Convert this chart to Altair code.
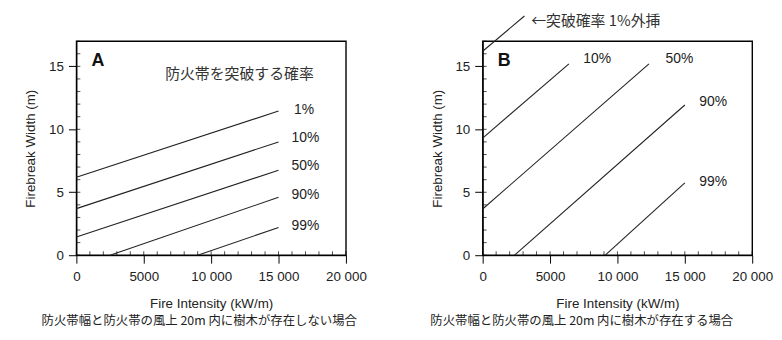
import altair as alt
import pandas as pd

# ---- data ----
X_TICKS = [0, 5000, 10000, 15000, 20000]
Y_TICKS = [0, 5, 10, 15]
X_MINOR = list(range(0, 20001, 1000))
Y_MINOR = list(range(0, 18, 1))

A_series = ["1%", "10%", "50%", "90%", "99%"]
A_x0 = [0, 0, 0, 2500, 9000]
A_y0 = [6.2, 3.7, 1.45, 0, 0]
A_x1 = [15000, 15000, 15000, 15000, 15000]
A_y1 = [11.45, 9.0, 6.75, 4.6, 2.2]
A_lab_text = ["1%", "10%", "50%", "90%", "99%"]
A_lab_x = [16900, 17000, 17000, 17000, 17000]
A_lab_y = [11.5, 9.3, 7.05, 4.75, 2.3]
A_note = "防火帯を突破する確率"
A_note_x = [12100]
A_note_y = [14.4]
A_caption = "防火帯幅と防火帯の風上 20m 内に樹木が存在しない場合"

B_series = ["1%", "10%", "50%", "90%", "99%"]
B_x0 = [0, 0, 0, 2370, 9100]
B_y0 = [16.2, 9.3, 3.67, 0, 0]
B_x1 = [3100, 6400, 12340, 15000, 15000]
B_y1 = [19.0, 15.2, 15.2, 11.93, 5.75]
B_lab_text = ["10%", "50%", "90%", "99%"]
B_lab_x = [8500, 14600, 17100, 17100]
B_lab_y = [15.6, 15.6, 12.2, 5.8]
B_note = "←突破確率 1%外挿"
B_note_x = [3600]
B_note_y = [18.6]
B_caption = "防火帯幅と防火帯の風上 20m 内に樹木が存在する場合"

LETTER_X = [1600]
LETTER_Y = [15.4]

FONT = "Liberation Sans"
CJK = "Noto Sans CJK JP"


def panel(letter, series, x0, y0, x1, y1, lab_text, lab_x, lab_y,
          note, note_x, note_y, note_align, caption, caption_dx):
    xs = alt.Scale(domain=[0, 20000], nice=False, zero=False)
    ys = alt.Scale(domain=[0, 17], nice=False, zero=False)
    xaxis = alt.Axis(
        values=X_TICKS, title="Fire Intensity (kW/m)", grid=False,
        labelExpr="datum.value >= 10000 ? replace(format(datum.value, ','), ',', ' ') : format(datum.value, 'd')",
        tickSize=8, labelPadding=7, titlePadding=13, labelFontSize=13.5,
        titleFontSize=13.5, labelFont=FONT, titleFont=FONT, titleFontWeight="normal",
        labelFlush=False, labelOverlap=False, labelBound=False,
        labelColor="#222", titleColor="#222", domainColor="black", tickColor="black",
    )
    yaxis = alt.Axis(
        values=Y_TICKS, title="Firebreak Width (m)", grid=False,
        tickSize=8, labelPadding=5, titlePadding=11, labelFontSize=13.5,
        titleFontSize=13.5, labelFont=FONT, titleFont=FONT, titleFontWeight="normal",
        labelFlush=False, labelOverlap=False, labelBound=False,
        labelColor="#222", titleColor="#222", domainColor="black", tickColor="black",
    )
    X = lambda f: alt.X(f, scale=xs, axis=xaxis)
    Y = lambda f: alt.Y(f, scale=ys, axis=yaxis)
    df = pd.DataFrame({"s": series, "x0": x0, "y0": y0, "x1": x1, "y1": y1})
    lines = alt.Chart(df).mark_rule(color="#222", strokeWidth=1.1, clip=False).encode(
        x=X("x0:Q"), y=Y("y0:Q"), x2="x1:Q", y2="y1:Q", detail="s:N",
    )
    xminor = alt.Chart(pd.DataFrame({"v": X_MINOR})).mark_tick(
        color="black", orient="vertical", size=4, thickness=1, yOffset=-2
    ).encode(x=X("v:Q"), y=alt.Y(datum=0, scale=ys, axis=yaxis))
    yminor = alt.Chart(pd.DataFrame({"v": Y_MINOR})).mark_tick(
        color="black", orient="horizontal", size=4, thickness=1, xOffset=2
    ).encode(y=Y("v:Q"), x=alt.X(datum=0, scale=xs, axis=xaxis))
    labels = alt.Chart(pd.DataFrame({"t": lab_text, "x": lab_x, "y": lab_y})).mark_text(
        font=FONT, fontSize=14, color="#222", align="center", baseline="middle"
    ).encode(x=X("x:Q"), y=Y("y:Q"), text="t:N")
    let = alt.Chart(pd.DataFrame({"t": [letter], "x": LETTER_X, "y": LETTER_Y})).mark_text(
        font=FONT, fontSize=18, fontWeight="bold", color="#111", align="center", baseline="middle"
    ).encode(x=X("x:Q"), y=Y("y:Q"), text="t:N")
    nt = alt.Chart(pd.DataFrame({"t": [note], "x": note_x, "y": note_y})).mark_text(
        font=CJK, fontSize=15, color="#333", align=note_align, baseline="middle"
    ).encode(x=X("x:Q"), y=Y("y:Q"), text="t:N")
    return alt.layer(lines, xminor, yminor, labels, let, nt).properties(
        width=272, height=216,
        title=alt.TitleParams(
            text=caption, orient="bottom", anchor="middle", dx=caption_dx,
            font=CJK, fontSize=12.5, fontWeight="normal", color="#222", offset=5,
        ),
    )


pa = panel("A", A_series, A_x0, A_y0, A_x1, A_y1, A_lab_text, A_lab_x, A_lab_y,
           A_note, A_note_x, A_note_y, "center", A_caption, -12)
pb = panel("B", B_series, B_x0, B_y0, B_x1, B_y1, B_lab_text, B_lab_x, B_lab_y,
           B_note, B_note_x, B_note_y, "left", B_caption, -36)

chart = alt.hconcat(pa, pb, spacing=138, bounds="flush").properties(
    padding={"left": 15, "top": 3, "right": 0, "bottom": 0}
).configure(background="white").configure_view(stroke="black", strokeWidth=1.4)

chart.save("out.html", embed_options={"renderer": "svg", "actions": False})
